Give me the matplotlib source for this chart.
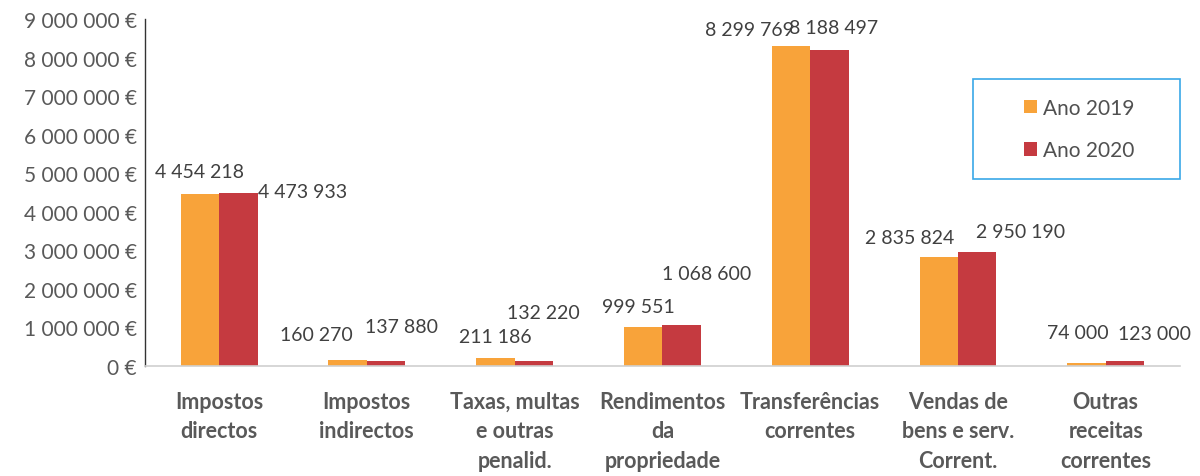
import matplotlib.pyplot as plt
from matplotlib.patches import Rectangle
import numpy as np

###DATA###
categories = ['Impostos\ndirectos', 'Impostos\nindirectos', 'Taxas, multas\ne outras\npenalid.',
              'Rendimentos\nda\npropriedade', 'Transferências\ncorrentes',
              'Vendas de\nbens e serv.\nCorrent.', 'Outras\nreceitas\ncorrentes']
ano_2019 = [4454218, 160270, 211186, 999551, 8299769, 2835824, 74000]
ano_2020 = [4473933, 137880, 132220, 1068600, 8188497, 2950190, 123000]
series_names = ['Ano 2019', 'Ano 2020']
yticks = np.arange(0, 9000001, 1000000)

# label offsets (pixels) from the top of each bar, as placed in the original
off_2019 = [(0, 23), (-31, 25), (0, 21), (-5, 21), (-42, 17), (-29, 19), (-9, 30)]
off_2020 = [(64, 2), (15, 34), (10, 48), (25, 51), (4, 23), (43, 21), (30, 28)]

###STYLE###
plt.rcParams['font.family'] = ['Lato', 'DejaVu Sans']
c19 = '#F8A33A'
c20 = '#C53A40'
w = 0.26

def fmt(v):
    return f'{v:,}'.replace(',', ' ')

###PLOT###
fig = plt.figure(figsize=(12, 4.77), dpi=100)
ax = fig.add_axes([0.121, 0.231, 0.862, 0.727])

x = np.arange(len(categories))
b1 = ax.bar(x - w/2, ano_2019, w, color=c19, label=series_names[0])
b2 = ax.bar(x + w/2, ano_2020, w, color=c20, label=series_names[1])

for bars, vals, offs in [(b1, ano_2019, off_2019), (b2, ano_2020, off_2020)]:
    for r, v, (dx, dy) in zip(bars, vals, offs):
        ax.annotate(fmt(v), (r.get_x() + r.get_width()/2, v), xytext=(dx, dy),
                    textcoords='offset pixels', ha='center', va='center',
                    fontsize=14, color='#404040')

ax.set_xlim(-0.5, 6.5)
ax.set_ylim(0, 9000000)
ax.set_yticks(yticks)
ax.set_yticklabels([fmt(v) + ' €' for v in yticks], fontsize=15, color='#595959')
ax.set_xticks(x)
ax.set_xticklabels(categories, fontsize=15.5, fontweight='bold', color='#595959',
                   linespacing=1.5, va='top')
ax.tick_params(axis='both', length=0)
ax.tick_params(axis='x', pad=18)
ax.tick_params(axis='y', pad=6)

for s in ['top', 'right']:
    ax.spines[s].set_visible(False)
ax.spines['left'].set_color('#333333')
ax.spines['left'].set_linewidth(1)
ax.spines['bottom'].set_color('#d0d0d0')
ax.spines['bottom'].set_linewidth(1.2)

# legend box
ax.add_patch(Rectangle((0.80, 0.539), 0.2, 0.288, transform=ax.transAxes,
                       fill=False, edgecolor='#3aa8e8', lw=1.2, clip_on=False))
ax.legend(loc='center left', bbox_to_anchor=(0.85, 0.683), fontsize=15,
          frameon=False, handlelength=0.6, handleheight=0.6, handletextpad=0.3,
          labelspacing=1.1, labelcolor='#505050', borderaxespad=0, borderpad=0)

fig.savefig('out.png', dpi=100)
